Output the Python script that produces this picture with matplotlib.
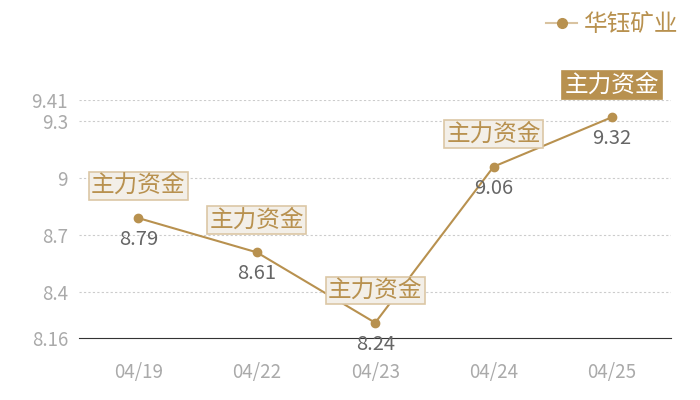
import matplotlib
matplotlib.use('Agg')
import matplotlib.pyplot as plt
from matplotlib.lines import Line2D

plt.rcParams['font.family'] = ['Noto Sans CJK SC', 'DejaVu Sans']

# 数据
dates = ['04/19', '04/22', '04/23', '04/24', '04/25']
prices = [8.79, 8.61, 8.24, 9.06, 9.32]
yticks = [8.16, 8.4, 8.7, 9, 9.3, 9.41]
tag = '主力资金'
name = '华钰矿业'

gold = '#b8914f'
fig = plt.figure(figsize=(7, 4), dpi=100)
ax = fig.add_axes([0.113, 0.155, 0.846, 0.595])

x = list(range(len(dates)))
ax.plot(x, prices, '-', color=gold, lw=1.5, marker='o', ms=6, zorder=3)

ax.set_xlim(-0.5, len(dates) - 0.5)
ax.set_ylim(yticks[0], yticks[-1])
ax.set_yticks(yticks)
ax.set_yticklabels([('%g' % v) for v in yticks])
ax.set_xticks(x)
ax.set_xticklabels(dates)
ax.tick_params(length=0, labelsize=13.5, colors='#aaaaaa', pad=8)
ax.tick_params(axis='x', pad=17)
for v in yticks[1:]:
    ax.axhline(v, color='#cccccc', lw=0.8, ls=(0, (2, 2)), zorder=1)
for s in ['top', 'right', 'left']:
    ax.spines[s].set_visible(False)
ax.spines['bottom'].set_color('#333333')

# 数值和标签
for i, p in enumerate(prices):
    ax.annotate('%.2f' % p, (i, p), xytext=(0, -8), textcoords='offset points',
                ha='center', va='top', fontsize=14.5, color='#666666')
    last = i == len(prices) - 1
    ax.annotate(tag, (i, p), xytext=(0, 15), textcoords='offset points',
                ha='center', va='bottom', fontsize=17,
                color='white' if last else gold, zorder=5,
                bbox=dict(boxstyle='square,pad=0.1',
                          fc=gold if last else '#f3efe8',
                          ec=gold if last else '#dcc7a5', lw=1.2))

# 图例
h = Line2D([], [], color='#d9c3a0', lw=1.5, marker='o', ms=7,
           markerfacecolor=gold, markeredgecolor=gold)
fig.legend([h], [name], loc='upper right', bbox_to_anchor=(1.0, 1.02),
           frameon=False, fontsize=17, labelcolor=gold,
           handlelength=1.3, handletextpad=0.3)

fig.savefig('out.png', dpi=100)
